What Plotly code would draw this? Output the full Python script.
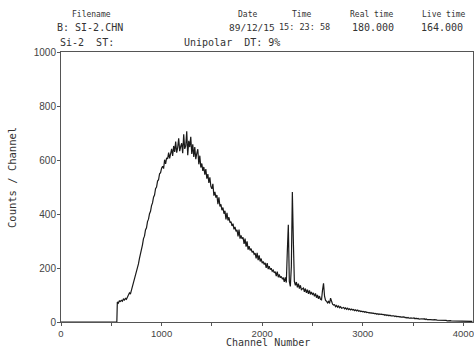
import plotly.graph_objects as go

# Spectrum data: channel numbers and counts per channel
lead_channels = [0, 550, 555]
lead_counts = [0, 0, 0]

start_channel = 560
channel_step = 10
counts = [
    74, 70, 78, 76,
    80, 77, 85, 81, 87, 84, 92, 99, 108, 103,
    117, 127, 145, 155, 172, 186, 203, 215, 236, 250,
    275, 286, 309, 318, 341, 349, 372, 381, 401, 410,
    431, 441, 462, 470, 494, 500, 522, 527, 549, 553,
    570, 577, 568, 601, 586, 608, 604, 627, 606, 624,
    641, 615, 652, 630, 668, 627, 646, 680, 633, 650,
    662, 625, 695, 641, 652, 706, 618, 671, 648, 686,
    622, 658, 611, 648, 603, 625, 640, 584, 616, 572,
    587, 560, 574, 546, 566, 531, 548, 515, 536, 502,
    493, 512, 468, 482, 461, 470, 436, 462, 428, 436,
    414, 424, 401, 412, 380, 404, 376, 388, 368, 372,
    356, 364, 343, 352, 336, 341, 317, 342, 309, 321,
    308, 314, 289, 309, 279, 299, 268, 281, 265, 272,
    258, 263, 251, 255, 236, 256, 229, 247, 224, 235,
    218, 224, 213, 219, 200, 218, 196, 207, 194, 199,
    188, 192, 182, 187, 170, 187, 166, 176, 164, 169,
    160, 163, 149, 165, 146, 262, 360, 150, 132, 205,
    481, 300, 150, 136, 148, 128, 142, 124, 136, 120,
    122, 126, 112, 124, 108, 120, 104, 117, 102, 111,
    102, 106, 95, 106, 90, 100, 86, 96, 84, 82,
    118, 143, 96, 80, 77, 71, 76, 69, 88, 74,
    66, 63, 64, 57, 61, 55, 59, 53, 57, 51,
    53, 54, 49, 52, 47, 51, 46, 49, 45, 48,
    44, 46, 42, 45, 41, 44, 40, 42, 39, 40,
    38, 39, 36, 38, 35, 36, 34, 35, 33, 34,
    32, 33, 30, 32, 29, 31, 28, 30, 28, 29,
    27, 28, 25, 27, 24, 26, 23, 25, 23, 23,
    22, 23, 20, 22, 19, 21, 19, 20, 18, 18,
    18, 19, 16, 17, 15, 17, 14, 16, 15, 14,
    14, 15, 12, 14, 12, 13, 11, 12, 11, 12,
    11, 12, 9, 11, 9, 10, 9, 9, 8, 8,
    8, 9, 7, 8, 7, 7, 6, 7, 6, 6,
    6, 6, 5, 6, 4, 5, 4, 5, 4, 4,
    4, 4, 3, 4, 3, 3, 4, 3, 3, 3,
    3, 2, 3, 3, 2, 3, 2, 2, 3, 2,
]
channels = lead_channels + [start_channel + channel_step * i for i in range(len(counts))]
values = lead_counts + counts

x_ticks = [0, 1000, 2000, 3000, 4000]
x_minor_ticks = [500, 1500, 2500, 3500]
y_ticks = [0, 200, 400, 600, 800, 1000]

header_labels = ["Filename", "Date", "Time", "Real time", "Live time"]
header_values = ["B: SI-2.CHN", "89/12/15", "15: 23: 58", "180.000", "164.000"]
line2_left = "Si-2  ST:"
line2_mid = "Unipolar  DT: 9%"
x_title = "Channel Number"
y_title = "Counts / Channel"

W, H = 474, 347
L, R, T, B = 61, 1, 52, 25
PW, PH = W - L - R, H - T - B


def px(x):
    return (x - L) / PW


def py(y):
    return (H - B - y) / PH


mono = "DejaVu Sans Mono"
ink = "#333333"

fig = go.Figure()
fig.add_trace(go.Scatter(
    x=channels, y=values, mode="lines",
    line=dict(color="#1a1a1a", width=1.2),
    hoverinfo="skip", showlegend=False,
))

axis_common = dict(
    showline=True, mirror=True, linecolor="#555555", linewidth=1,
    showgrid=False, zeroline=False,
    ticks="outside", ticklen=3, tickcolor="#555555", tickwidth=1,
    automargin=False, ticklabeloverflow="allow",
)

fig.update_layout(
    width=W, height=H,
    margin=dict(l=L, r=R, t=T, b=B, autoexpand=False),
    paper_bgcolor="white", plot_bgcolor="white",
    xaxis=dict(range=[0, 4096], tickvals=x_ticks,
               tickfont=dict(family="Liberation Sans, Arial", size=9.5, color="#444444"),
               minor=dict(tickvals=x_minor_ticks, ticks="outside",
                          ticklen=3, tickcolor="#555555"),
               **axis_common),
    yaxis=dict(range=[0, 1000], tickvals=y_ticks, ticklabelstandoff=-1,
               tickfont=dict(family="Liberation Sans, Arial", size=10, color="#444444"),
               **axis_common),
)

ann = []
label_x = [91, 247, 301, 372, 444]
value_x = [90, 251.5, 304, 373, 442]
value_sizes = [10, 9.5, 8.5, 10, 10]
for lbl, xx in zip(header_labels, label_x):
    ann.append(dict(text=lbl, x=px(xx), y=py(15), xref="paper", yref="paper",
                    showarrow=False, xanchor="center", yanchor="middle",
                    font=dict(family=mono, size=8, color=ink)))
for val, xx, sz in zip(header_values, value_x, value_sizes):
    ann.append(dict(text=val, x=px(xx), y=py(27), xref="paper", yref="paper",
                    showarrow=False, xanchor="center", yanchor="middle",
                    font=dict(family=mono, size=sz, color=ink)))
ann.append(dict(text=line2_left.replace(" ", "&nbsp;"), x=px(58), y=py(43), xref="paper", yref="paper",
                showarrow=False, xanchor="left", yanchor="middle",
                font=dict(family=mono, size=10, color=ink)))
ann.append(dict(text=line2_mid.replace(" ", "&nbsp;"), x=px(182), y=py(43), xref="paper", yref="paper",
                showarrow=False, xanchor="left", yanchor="middle",
                font=dict(family=mono, size=10, color=ink)))
ann.append(dict(text=x_title, x=px(268), y=py(336), xref="paper", yref="paper",
                showarrow=False, xanchor="center", yanchor="top", borderpad=0,
                font=dict(family=mono, size=10, color=ink)))
ann.append(dict(text=y_title, x=px(12), y=py(178), xref="paper", yref="paper",
                showarrow=False, xanchor="center", yanchor="middle", textangle=-90,
                font=dict(family=mono, size=10.5, color=ink)))
fig.update_layout(annotations=ann)

fig.write_html(
    "out.html",
    config={"displayModeBar": False, "staticPlot": True},
    post_script="document.body.style.margin='0';document.body.style.padding='0';",
)
